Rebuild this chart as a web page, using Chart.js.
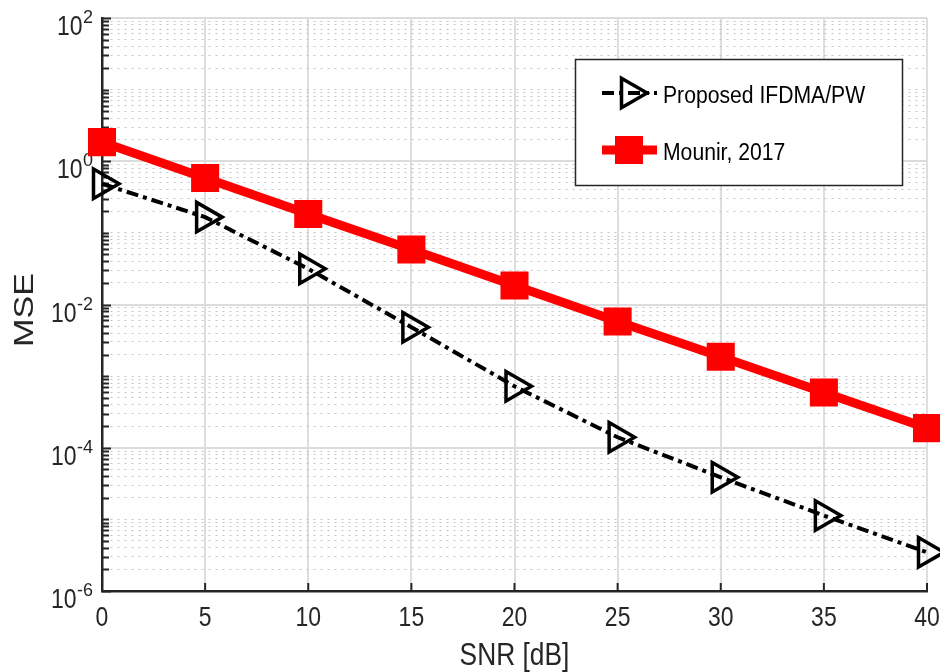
<!DOCTYPE html>
<html>
<head>
<meta charset="utf-8">
<title>MSE vs SNR</title>
<script src="https://cdn.jsdelivr.net/npm/chart.js@4.4.1/dist/chart.umd.min.js"></script>
<style>
  html, body { margin: 0; padding: 0; background: #fff; }
  #wrap { width: 940px; height: 672px; }
</style>
</head>
<body>
<div id="wrap"><canvas id="mseChart" width="940" height="672"></canvas></div>
<script>
// SNR sweep (dB) and the MSE of each scheme
const snrDb = [0, 5, 10, 15, 20, 25, 30, 35, 40];
const proposedMse = [0.485, 0.166, 0.0315, 0.00482, 0.000721, 1.40e-4, 3.87e-5, 1.13e-5, 3.47e-6];
const mounirMse = [1.85, 0.585, 0.184, 0.0586, 0.0184, 0.0058, 0.00186, 0.000589, 0.000188];

const seriesNames = ['Proposed IFDMA/PW', 'Mounir, 2017'];
const xTickValues = [0, 5, 10, 15, 20, 25, 30, 35, 40];
const yLabelExponents = [2, 0, -2, -4, -6];
const xTitle = 'SNR [dB]';
const yTitle = 'MSE';

const FONT = '"Liberation Sans", Arial, Helvetica, sans-serif';
const AXIS_COLOR = '#262626';
const PROPOSED_DASH = [12, 5, 4, 5];

/**
 * Log ticks: every 1..9 x 10^n, with even decades as the major ones
 */
function buildLogTicks() {
    const ticks = [];
    for (let e = -6; e < 2; e++) {
        for (let m = 1; m < 10; m++) {
            ticks.push({ value: m * Math.pow(10, e), major: m === 1 && e % 2 === 0 });
        }
    }
    ticks.push({ value: 100, major: true });
    return ticks;
}

/**
 * Text squeezed horizontally so it keeps the tall look of the figure fonts
 */
function drawText(ctx, text, x, y, size, sx, align) {
    ctx.save();
    ctx.translate(x, y);
    ctx.scale(sx, 1);
    ctx.font = size + 'px ' + FONT;
    ctx.textAlign = align;
    ctx.textBaseline = 'alphabetic';
    ctx.fillText(text, 0, 0);
    const w = ctx.measureText(text).width * sx;
    ctx.restore();
    return w;
}

function trianglePath(ctx, cx, cy, r) {
    ctx.beginPath();
    ctx.moveTo(cx + r, cy);
    ctx.lineTo(cx - r / 2, cy + r * 0.866);
    ctx.lineTo(cx - r / 2, cy - r * 0.866);
    ctx.closePath();
}

// Inward tick marks, tick labels and axis titles
const axisDecor = {
    id: 'axisDecor',
    beforeDatasetsDraw(chart) {
        const { ctx, chartArea, scales: { x, y } } = chart;
        ctx.save();
        ctx.strokeStyle = AXIS_COLOR;
        ctx.lineWidth = 2;
        ctx.beginPath();
        y.ticks.forEach(t => {
            const py = Math.round(y.getPixelForValue(t.value)) + 0.5;
            ctx.moveTo(chartArea.left, py);
            ctx.lineTo(chartArea.left + (t.major ? 9 : 7), py);
        });
        xTickValues.forEach(v => {
            const px = x.getPixelForValue(v);
            ctx.moveTo(px, chartArea.bottom);
            ctx.lineTo(px, chartArea.bottom - 8);
        });
        ctx.stroke();

        ctx.fillStyle = AXIS_COLOR;
        xTickValues.forEach(v => {
            drawText(ctx, String(v), x.getPixelForValue(v), chartArea.bottom + 35, 28, 0.82, 'center');
        });

        yLabelExponents.forEach(e => {
            const py = y.getPixelForValue(Math.pow(10, e));
            const expW = drawText(ctx, String(e), 93, py + 5, 18, 1.0, 'right');
            drawText(ctx, '10', 93 - expW - 0.5, py + 17, 28, 0.82, 'right');
        });

        drawText(ctx, xTitle, (chartArea.left + chartArea.right) / 2, 665, 31, 0.85, 'center');

        ctx.save();
        ctx.translate(33, 310);
        ctx.rotate(-Math.PI / 2);
        ctx.scale(1.22, 1);
        ctx.font = '28px ' + FONT;
        ctx.textAlign = 'center';
        ctx.fillText(yTitle, 0, 0);
        ctx.restore();
        ctx.restore();
    },
    afterDraw(chart) {
        const ctx = chart.ctx;
        ctx.save();
        // legend box
        ctx.fillStyle = '#ffffff';
        ctx.fillRect(575, 59, 327, 126);
        ctx.strokeStyle = AXIS_COLOR;
        ctx.lineWidth = 1.5;
        ctx.strokeRect(575.5, 59.5, 327, 126);

        // proposed scheme entry
        ctx.strokeStyle = '#000000';
        ctx.lineWidth = 4;
        ctx.setLineDash(PROPOSED_DASH);
        ctx.beginPath();
        ctx.moveTo(602, 93);
        ctx.lineTo(657, 93);
        ctx.stroke();
        ctx.setLineDash([]);
        ctx.lineWidth = 3.5;
        trianglePath(ctx, 630, 93, 17);
        ctx.stroke();

        // reference scheme entry
        ctx.strokeStyle = '#ff0000';
        ctx.fillStyle = '#ff0000';
        ctx.lineWidth = 9;
        ctx.beginPath();
        ctx.moveTo(602, 150);
        ctx.lineTo(657, 150);
        ctx.stroke();
        ctx.fillRect(615, 136, 28, 28);

        ctx.fillStyle = '#000000';
        drawText(ctx, seriesNames[0], 663, 103, 23.5, 0.9, 'left');
        drawText(ctx, seriesNames[1], 663, 160, 23.5, 0.9, 'left');
        ctx.restore();
    }
};

const ctx = document.getElementById('mseChart');

new Chart(ctx, {
    type: 'line',
    data: {
        labels: snrDb,
        datasets: [
            {
                label: seriesNames[0],
                data: snrDb.map((s, i) => ({ x: s, y: proposedMse[i] })),
                borderColor: '#000000',
                borderWidth: 4,
                borderDash: PROPOSED_DASH,
                pointStyle: 'triangle',
                pointRotation: 90,
                pointRadius: 17,
                pointBorderWidth: 3.5,
                pointBorderColor: '#000000',
                pointBackgroundColor: 'rgba(0,0,0,0)',
                tension: 0,
                clip: false
            },
            {
                label: seriesNames[1],
                data: snrDb.map((s, i) => ({ x: s, y: mounirMse[i] })),
                borderColor: '#ff0000',
                borderWidth: 9,
                pointStyle: 'rect',
                pointRadius: 17,
                pointBorderWidth: 4,
                pointBorderColor: '#ff0000',
                pointBackgroundColor: '#ff0000',
                tension: 0,
                clip: false
            }
        ]
    },
    options: {
        responsive: false,
        animation: false,
        devicePixelRatio: 1,
        events: [],
        layout: { autoPadding: false, padding: { top: 18, right: 13, left: 0, bottom: 0 } },
        plugins: {
            legend: { display: false },
            tooltip: { enabled: false }
        },
        scales: {
            x: {
                type: 'linear',
                min: 0,
                max: 40,
                ticks: { display: false, stepSize: 5 },
                grid: { color: '#dedede', lineWidth: 2, drawTicks: false },
                border: { color: AXIS_COLOR, width: 2.5 },
                afterFit: scale => { scale.height = 81; }
            },
            y: {
                type: 'logarithmic',
                min: 1e-6,
                max: 100,
                ticks: { display: false },
                afterBuildTicks: scale => { scale.ticks = buildLogTicks(); },
                grid: {
                    drawTicks: false,
                    color: c => (c.tick && c.tick.major ? '#dcdcdc' : '#c4c4c4'),
                    lineWidth: c => (c.tick && c.tick.major ? 2 : 1)
                },
                border: {
                    color: AXIS_COLOR,
                    width: 2.5,
                    dash: c => (c.tick && !c.tick.major ? [2, 5] : [])
                },
                afterFit: scale => { scale.width = 102; }
            }
        }
    },
    plugins: [axisDecor]
});
</script>
</body>
</html>
